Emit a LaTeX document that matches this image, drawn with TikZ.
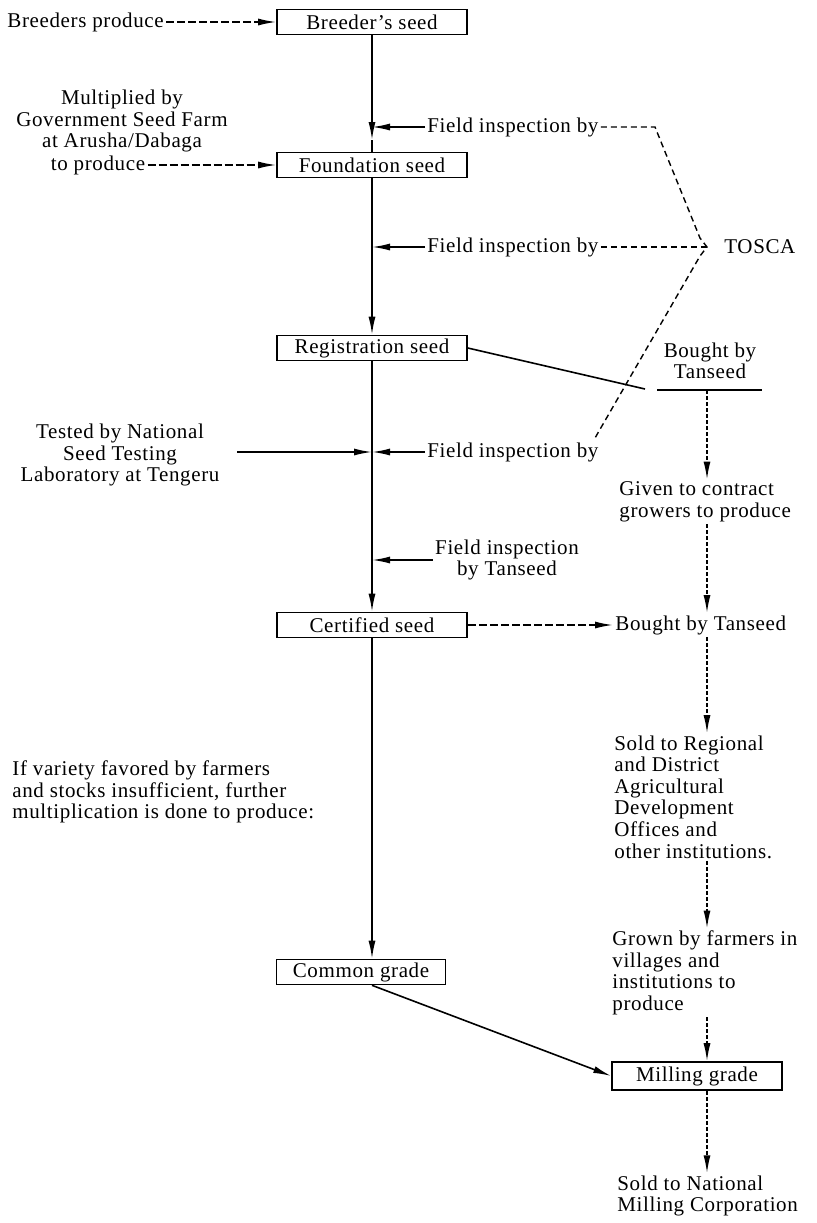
\documentclass[tikz,border=0pt]{standalone}
\usepackage{fontspec}
\setmainfont{Liberation Serif}[LetterSpace=3]
\usetikzlibrary{arrows.meta}

\begin{document}
\begin{tikzpicture}[x=0.5pt,y=-0.5pt,
  every node/.style={font=\fontsize{10.5}{10.8}\selectfont, inner sep=1pt},
  seedbox/.style={draw, line width=0.8pt, minimum width=95pt, minimum height=12.5pt, inner sep=0pt},
  plain/.style={line width=0.8pt},
  solidarr/.style={line width=0.8pt, -{Latex[length=9pt,width=3.5pt]}},
  dasharr/.style={line width=0.8pt, dash pattern=on 4pt off 1.5pt, -{Latex[length=9pt,width=3.5pt]}},
  dotarr/.style={line width=0.8pt, dash pattern=on 2pt off 1pt, -{Latex[length=9pt,width=3.5pt]}},
  tosca/.style={line width=0.7pt, dash pattern=on 3pt off 2pt}]
\useasboundingbox (0,0) rectangle (817,1223);

\node[anchor=west] (bp) at (5,22) {Breeders produce};
\node[seedbox] (breeder) at (372,22) {Breeder’s seed};
\node[align=center] (mult) at (122,121) {Multiplied by\\Government Seed Farm\\at Arusha/Dabaga};
\node (toprod) at (98,165) {to produce};
\node[seedbox] (foundation) at (372,165) {Foundation seed};
\node[anchor=west] (fi1) at (425,127) {Field inspection by};
\node[anchor=west] (fi2) at (425,247) {Field inspection by};
\node[anchor=west] (tosca) at (722,247) {TOSCA};
\node[seedbox] (registration) at (372,348) {Registration seed};
\node[align=center] (bought) at (710,361) {Bought by\\Tanseed};
\node[anchor=west] (fi3) at (425,452) {Field inspection by};
\node[align=center] (tested) at (120,455) {Tested by National\\Seed Testing\\Laboratory at Tengeru};
\node[align=left, anchor=west] (given) at (617,502) {Given to contract\\growers to produce};
\node[align=center] (fi4) at (507,560) {Field inspection\\by Tanseed};
\node[seedbox] (certified) at (372,625) {Certified seed};
\node[anchor=west] (boughtT) at (613,625) {Bought by Tanseed};
\node[align=left, anchor=west] (ifvar) at (10,792) {If variety favored by farmers\\and stocks insufficient, further\\multiplication is done to produce:};
\node[align=left, anchor=west] (soldreg) at (612,797) {Sold to Regional\\and District\\Agricultural\\Development\\Offices and\\other institutions.};
\node[seedbox, minimum width=84.5pt] (common) at (361,972) {Common grade};
\node[align=left, anchor=west] (grown) at (610,973) {Grown by farmers in\\villages and\\institutions to\\produce};
\node[seedbox, minimum width=85pt, minimum height=14pt] (milling) at (697,1076) {Milling grade};
\node[align=left, anchor=west] (soldnat) at (615,1196) {Sold to National\\Milling Corporation};

\coordinate (h1) at (372,140);
\coordinate (testin) at (237,452);
\coordinate (regend) at (645,389);
\coordinate (ulL) at (657,390);
\coordinate (ulR) at (762,390);
\coordinate (ulM) at (707,390);
\coordinate (t1) at (655,127);
\coordinate (t2) at (700,238);
\coordinate (tip) at (707,247);
\coordinate (t3) at (700,256);
\coordinate (t4) at (595,438);

% main line
\draw[solidarr] (breeder) -- (h1);
\draw[plain] (h1) -- (foundation);
\draw[solidarr] (foundation) -- (registration);
\draw[solidarr] (registration) -- (certified);
\draw[solidarr] (certified.south) -- (certified.south |- common.north);

% inputs from the sides
\draw[dasharr] (bp) -- (breeder);
\draw[dasharr] (toprod) -- (toprod -| foundation.west);
\draw[solidarr] (fi1) -- (fi1.west -| breeder);
\draw[solidarr] (fi2) -- (fi2.west -| breeder);
\draw[solidarr] (fi3) -- (fi3.west -| breeder);
\draw[solidarr] (fi4) -- (fi4.west -| breeder);
\draw[solidarr] (testin) -- (testin -| breeder);

% TOSCA brace
\draw[tosca] (fi1) -- (t1) -- (t2) -- (tip) -- (t3) -- (t4);
\draw[tosca] (fi2) -- (tip);

% Tanseed column
\draw[plain] (registration.east) -- (regend);
\draw[plain] (ulL) -- (ulR);
\draw[dotarr] (ulM) -- (ulM |- given.north);
\draw[dotarr] (given.south -| ulM) -- (ulM |- boughtT.north);
\draw[dasharr] (certified) -- (boughtT);
\draw[dotarr] (boughtT.south -| ulM) -- (ulM |- soldreg.north);
\draw[dotarr] (soldreg.south -| ulM) -- (ulM |- grown.north);
\draw[dotarr] (grown.south -| ulM) -- (ulM |- milling.north);
\draw[dotarr] (milling.south -| ulM) -- (ulM |- soldnat.north);
\draw[solidarr] (common.south -| certified.south) -- (milling.west);
\end{tikzpicture}
\end{document}
